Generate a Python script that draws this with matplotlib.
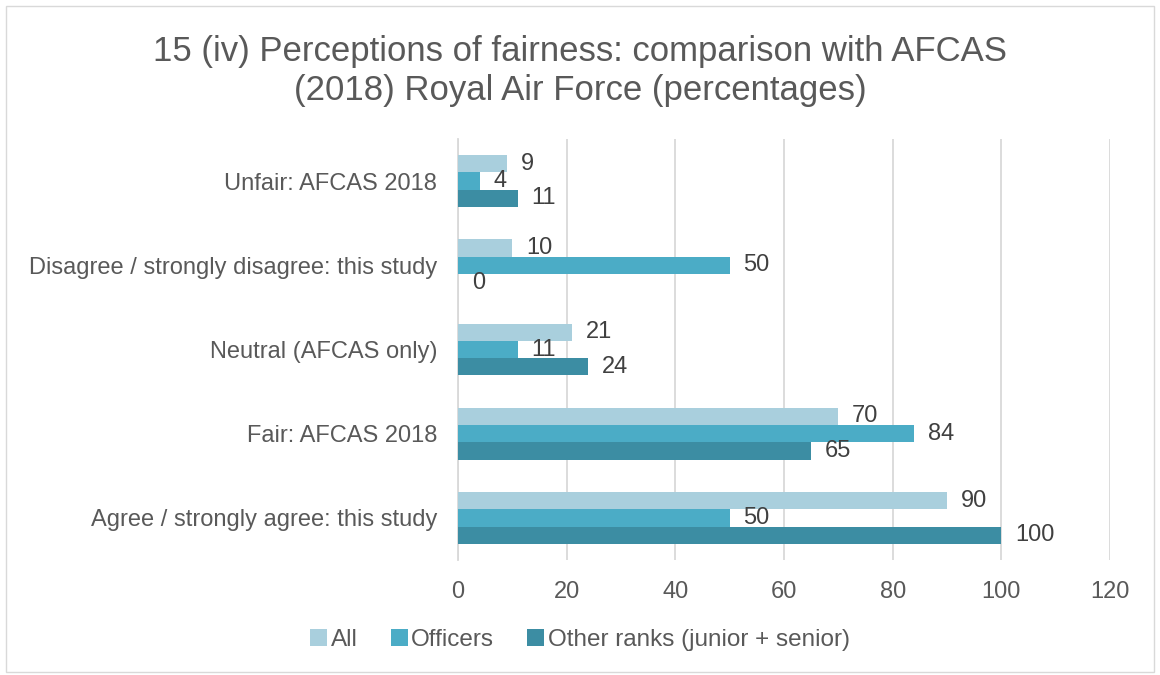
import numpy as np
import matplotlib
matplotlib.use("Agg")
import matplotlib.pyplot as plt
from matplotlib.patches import Rectangle

plt.rcParams["font.family"] = ["Liberation Sans", "DejaVu Sans"]

categories = ["Unfair: AFCAS 2018", "Disagree / strongly disagree: this study",
              "Neutral (AFCAS only)", "Fair: AFCAS 2018", "Agree / strongly agree: this study"]
series_names = ["All", "Officers", "Other ranks (junior + senior)"]
all_vals = [9, 10, 21, 70, 90]
officers_vals = [4, 50, 11, 84, 50]
other_vals = [11, 0, 24, 65, 100]
colors = ["#A9CFDD", "#4BACC6", "#3C8DA3"]
xticks = [0, 20, 40, 60, 80, 100, 120]

TXT = "#404040"
GRAY = "#595959"

fig = plt.figure(figsize=(11.6, 6.75), dpi=100)
ax = fig.add_axes([458 / 1160, 1 - 560 / 675, (1110 - 458) / 1160, (560 - 139) / 675])

y = np.arange(len(categories))
h = 0.205
for k, (vals, col, name) in enumerate(zip([all_vals, officers_vals, other_vals], colors, series_names)):
    pos = y + (k - 1) * h
    ax.barh(pos, vals, height=h, color=col, label=name, zorder=3)
    for p, v in zip(pos, vals):
        ax.annotate(str(v), (v, p), xytext=(10, 0), textcoords="offset points",
                    ha="left", va="center", fontsize=17, color=TXT)

ax.set_ylim(len(categories) - 0.5, -0.5)
ax.set_xlim(0, 120)
ax.set_xticks(xticks)
ax.set_yticks(y)
ax.set_yticklabels(categories, fontsize=17, color=GRAY)
ax.tick_params(axis="x", labelsize=17, colors=GRAY, length=0, pad=15)
ax.tick_params(axis="y", length=0, pad=15)
ax.grid(axis="x", color="#D9D9D9", lw=1.3, zorder=0)
for s in ["top", "right", "bottom"]:
    ax.spines[s].set_visible(False)
ax.spines["left"].set_color("#D9D9D9")
ax.spines["left"].set_linewidth(1.3)

fig.text(0.5, 1 - 71 / 675, "15 (iv) Perceptions of fairness: comparison with AFCAS\n(2018) Royal Air Force (percentages)",
         ha="center", va="center", fontsize=25, color=GRAY, linespacing=1.2)

fig.legend(loc="center", bbox_to_anchor=(0.5, 1 - 640 / 675), ncol=3, frameon=False,
           fontsize=17.5, labelcolor=GRAY, handlelength=0.7, handleheight=0.7,
           handletextpad=0.15, columnspacing=1.35)

fig.patches.append(Rectangle((6 / 1160, 0.005), 1 - 12 / 1160, 1 - 0.005 - 6 / 675,
                             transform=fig.transFigure, fill=False, ec="#D9D9D9", lw=1))

fig.savefig("out.png", dpi=100)
